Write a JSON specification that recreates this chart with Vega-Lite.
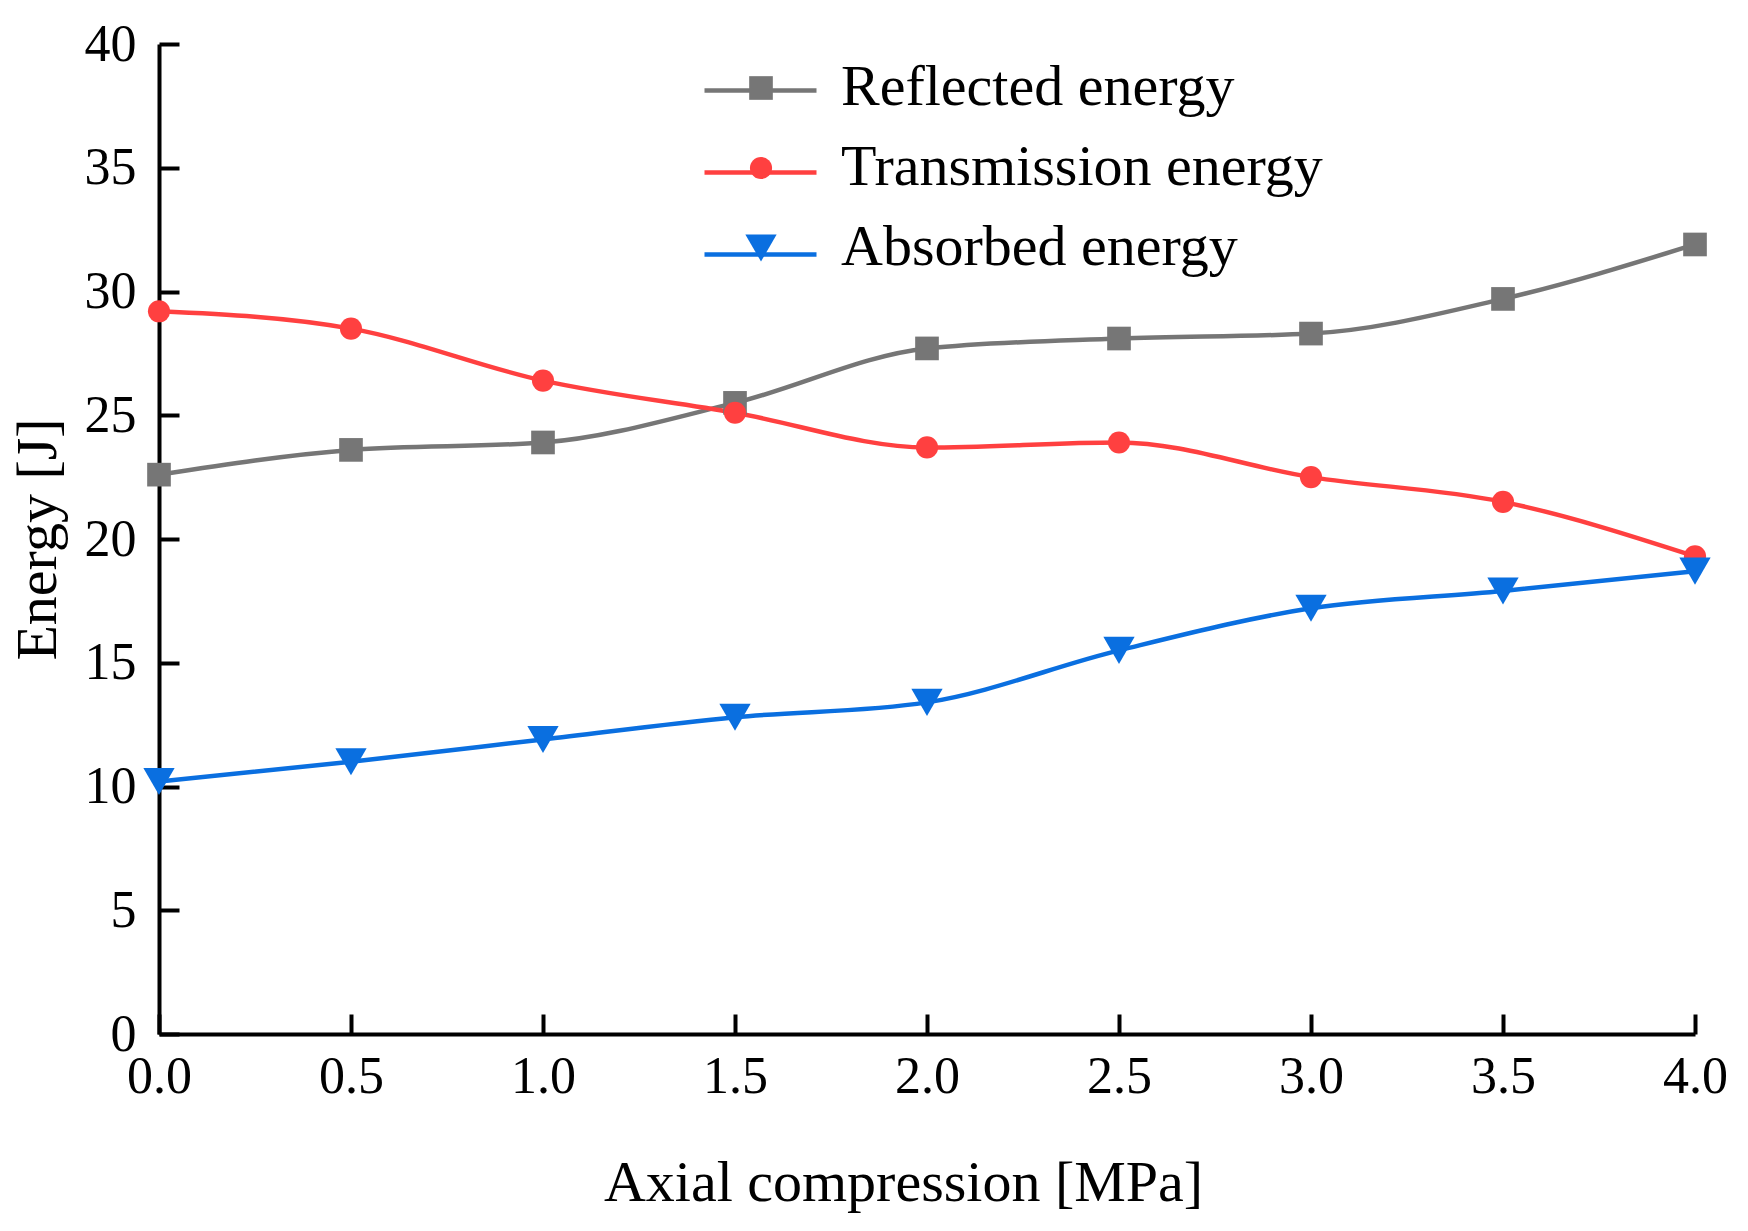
{
  "$schema": "https://vega.github.io/schema/vega-lite/v6.json",
  "width": 1536,
  "height": 990,
  "autosize": {"type": "none"},
  "padding": {"left": 159, "top": 44, "right": 53, "bottom": 197},
  "background": "white",
  "data": {
    "values": [
      {"x": 0.0, "series": "Reflected energy", "energy": 22.6},
      {"x": 0.5, "series": "Reflected energy", "energy": 23.6},
      {"x": 1.0, "series": "Reflected energy", "energy": 23.9},
      {"x": 1.5, "series": "Reflected energy", "energy": 25.5},
      {"x": 2.0, "series": "Reflected energy", "energy": 27.7},
      {"x": 2.5, "series": "Reflected energy", "energy": 28.1},
      {"x": 3.0, "series": "Reflected energy", "energy": 28.3},
      {"x": 3.5, "series": "Reflected energy", "energy": 29.7},
      {"x": 4.0, "series": "Reflected energy", "energy": 31.9},
      {"x": 0.0, "series": "Transmission energy", "energy": 29.2},
      {"x": 0.5, "series": "Transmission energy", "energy": 28.5},
      {"x": 1.0, "series": "Transmission energy", "energy": 26.4},
      {"x": 1.5, "series": "Transmission energy", "energy": 25.1},
      {"x": 2.0, "series": "Transmission energy", "energy": 23.7},
      {"x": 2.5, "series": "Transmission energy", "energy": 23.9},
      {"x": 3.0, "series": "Transmission energy", "energy": 22.5},
      {"x": 3.5, "series": "Transmission energy", "energy": 21.5},
      {"x": 4.0, "series": "Transmission energy", "energy": 19.3},
      {"x": 0.0, "series": "Absorbed energy", "energy": 10.2},
      {"x": 0.5, "series": "Absorbed energy", "energy": 11.0},
      {"x": 1.0, "series": "Absorbed energy", "energy": 11.9},
      {"x": 1.5, "series": "Absorbed energy", "energy": 12.8},
      {"x": 2.0, "series": "Absorbed energy", "energy": 13.4},
      {"x": 2.5, "series": "Absorbed energy", "energy": 15.5},
      {"x": 3.0, "series": "Absorbed energy", "energy": 17.2},
      {"x": 3.5, "series": "Absorbed energy", "energy": 17.9},
      {"x": 4.0, "series": "Absorbed energy", "energy": 18.7}
    ]
  },
  "encoding": {
    "x": {
      "field": "x",
      "type": "quantitative",
      "scale": {"domain": [0, 4], "nice": false, "zero": false},
      "axis": {
        "title": "Axial compression [MPa]",
        "values": [0, 0.5, 1, 1.5, 2, 2.5, 3, 3.5, 4],
        "format": ".1f",
        "grid": false,
        "domainColor": "black",
        "domainWidth": 4,
        "tickColor": "black",
        "tickWidth": 4,
        "tickSize": -20,
        "labelFont": "Liberation Serif",
        "labelFontSize": 52,
        "labelColor": "black",
        "labelPadding": 37,
        "labelFlush": false,
        "titleFont": "Liberation Serif",
        "titleFontSize": 58,
        "titleFontWeight": "normal",
        "titleColor": "black",
        "titleX": 744,
        "titleY": 166,
        "titleAlign": "center",
        "titleBaseline": "alphabetic"
      }
    },
    "y": {
      "field": "energy",
      "type": "quantitative",
      "scale": {"domain": [0, 40], "nice": false},
      "axis": {
        "title": "Energy [J]",
        "values": [0, 5, 10, 15, 20, 25, 30, 35, 40],
        "grid": false,
        "domainColor": "black",
        "domainWidth": 4,
        "tickColor": "black",
        "tickWidth": 4,
        "tickSize": -20,
        "labelFont": "Liberation Serif",
        "labelFontSize": 52,
        "labelColor": "black",
        "labelPadding": 43,
        "labelFlush": false,
        "titleFont": "Liberation Serif",
        "titleFontSize": 58,
        "titleFontWeight": "normal",
        "titleColor": "black",
        "titleX": -104,
        "titleY": 495,
        "titleAngle": 270,
        "titleAlign": "center",
        "titleBaseline": "alphabetic"
      }
    }
  },
  "layer": [
    {
      "mark": {"type": "line", "interpolate": "monotone", "strokeWidth": 4.5},
      "encoding": {
        "color": {
          "field": "series",
          "type": "nominal",
          "scale": {
            "domain": ["Reflected energy", "Transmission energy", "Absorbed energy"],
            "range": ["#767676", "#FF4040", "#0A6FE0"]
          },
          "legend": {
            "title": null,
            "orient": "none",
            "legendX": 589,
            "legendY": 34,
            "padding": 0,
            "symbolType": "M-5.6,0H5.6",
            "symbolSize": 400,
            "symbolStrokeWidth": 4.5,
            "labelExpr": "''",
            "labelFontSize": 1,
            "labelOffset": 0,
            "rowPadding": 60
          }
        }
      }
    },
    {
      "mark": {"type": "point", "filled": true, "opacity": 1},
      "encoding": {
        "color": {
          "field": "series",
          "type": "nominal",
          "scale": {
            "domain": ["Reflected energy", "Transmission energy", "Absorbed energy"],
            "range": ["#767676", "#FF4040", "#0A6FE0"]
          },
          "legend": {
            "title": null,
            "orient": "none",
            "legendX": 573,
            "legendY": 15,
            "padding": 0,
            "labelFont": "Liberation Serif",
            "labelFontSize": 58,
            "labelColor": "black",
            "labelOffset": 51,
            "labelLimit": 1000,
            "rowPadding": 22
          }
        },
        "shape": {
          "field": "series",
          "type": "nominal",
          "scale": {
            "domain": ["Reflected energy", "Transmission energy", "Absorbed energy"],
            "range": ["square", "circle", "triangle-down"]
          },
          "legend": null
        },
        "size": {
          "field": "series",
          "type": "nominal",
          "scale": {
            "type": "ordinal",
            "domain": ["Reflected energy", "Transmission energy", "Absorbed energy"],
            "range": [560, 490, 980]
          },
          "legend": null
        }
      }
    }
  ],
  "resolve": {
    "scale": {"color": "independent", "shape": "independent", "size": "independent"},
    "legend": {"color": "independent", "shape": "independent", "size": "independent"}
  },
  "config": {
    "view": {"stroke": null}
  }
}
